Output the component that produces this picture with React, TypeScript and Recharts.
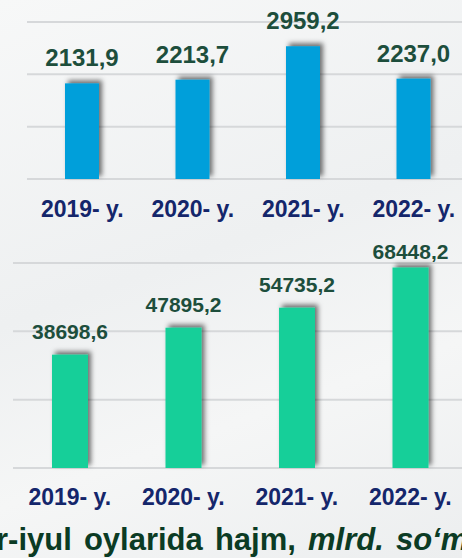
import { BarChart, Bar, XAxis, YAxis, CartesianGrid, LabelList } from 'recharts';

const YEARS = ['2019- y.', '2020- y.', '2021- y.', '2022- y.'];
const TOP_VALUES = [2131.9, 2213.7, 2959.2, 2237.0];
const BOTTOM_VALUES = [38698.6, 47895.2, 54735.2, 68448.2];
const TOP_TICKS = [0, 3500 / 3, 7000 / 3, 3500];
const BOTTOM_TICKS = [0, 70000 / 3, 140000 / 3, 70000];

const topData = YEARS.map((year, i) => ({ year, value: TOP_VALUES[i] }));
const bottomData = YEARS.map((year, i) => ({ year, value: BOTTOM_VALUES[i] }));

const FONT = '"Liberation Sans", Arial, sans-serif';
const fmt = (v: number) => v.toFixed(1).replace('.', ',');

const YearTick = ({ x, y, payload, dy }: any) => (
    <text x={x} y={y + dy} textAnchor="middle" fontFamily={FONT} fontWeight="bold" fontSize={23} fill="#14266b">
        {payload.value}
    </text>
);

// label above each bar, kept inside the plot top like the original
const makeValueLabel = (fontSize: number, gap: number, minY: number) => (props: any) => {
    const { x, y, width, value } = props;
    const ty = Math.max(y - gap, minY);
    return (
        <text x={x + width / 2} y={ty} textAnchor="middle" fontFamily={FONT} fontWeight="bold" fontSize={fontSize} fill="#1d4e3c">
            {fmt(value)}
        </text>
    );
};

const ShadowBar = ({ x, y, width, height, fill, filterId }: any) => (
    <rect x={x} y={y} width={width} height={height} fill={fill} filter={`url(#${filterId})`} />
);

export default function App() {
    return (
        <div
            style={{
                position: 'absolute',
                left: 0,
                top: 0,
                width: 462,
                height: 558,
                overflow: 'hidden',
                background: 'linear-gradient(160deg, #f7f8f8 0%, #eef0f1 45%, #f5f6f6 70%, #eceeef 100%)',
            }}
        >
            {/* top chart */}
            <div style={{ position: 'absolute', left: 0, top: 0 }}>
                <BarChart width={469} height={230} data={topData} margin={{ top: 22, right: 0, bottom: 0, left: 27 }} barSize={34}>
                    <defs>
                        <filter id="shTop" x="-50%" y="-50%" width="200%" height="200%">
                            <feDropShadow dx={3} dy={-3} stdDeviation={2.5} floodColor="#000" floodOpacity={0.55} />
                        </filter>
                    </defs>
                    <CartesianGrid horizontal vertical={false} stroke="#d6d8da" strokeWidth={2} />
                    <XAxis
                        dataKey="year"
                        axisLine={false}
                        tickLine={false}
                        tickSize={0}
                        tickMargin={0}
                        height={51}
                        interval={0}
                        tick={<YearTick dy={38} />}
                    />
                    <YAxis hide domain={[0, 3500]} ticks={TOP_TICKS} width={0} />
                    <Bar dataKey="value" fill="#009fda" isAnimationActive={false} shape={<ShadowBar filterId="shTop" />}>
                        <LabelList dataKey="value" content={makeValueLabel(24, 17, 0)} />
                    </Bar>
                </BarChart>
            </div>

            {/* bottom chart */}
            <div style={{ position: 'absolute', left: 0, top: 236 }}>
                <BarChart width={467} height={290} data={bottomData} margin={{ top: 27, right: 0, bottom: 0, left: 13 }} barSize={36}>
                    <defs>
                        <filter id="shBot" x="-50%" y="-50%" width="200%" height="200%">
                            <feDropShadow dx={3} dy={-3} stdDeviation={2.5} floodColor="#000" floodOpacity={0.55} />
                        </filter>
                    </defs>
                    <CartesianGrid horizontal vertical={false} stroke="#d6d8da" strokeWidth={2} />
                    <XAxis
                        dataKey="year"
                        axisLine={false}
                        tickLine={false}
                        tickSize={0}
                        tickMargin={0}
                        height={58}
                        interval={0}
                        tick={<YearTick dy={37} />}
                    />
                    <YAxis hide domain={[0, 70000]} ticks={BOTTOM_TICKS} width={0} />
                    <Bar dataKey="value" fill="#14cf99" isAnimationActive={false} shape={<ShadowBar filterId="shBot" />}>
                        <LabelList dataKey="value" content={makeValueLabel(21, 16, 23)} />
                    </Bar>
                </BarChart>
            </div>

            {/* caption, cut at both edges as in the source slide */}
            <svg width={462} height={558} style={{ position: 'absolute', left: 0, top: 0 }}>
                <text x={-4} y={550} fontFamily={FONT} fontWeight="bold" fontSize={31} fill="#0b3b24" wordSpacing={3.5}>
                    r-iyul oylarida hajm, <tspan fontStyle="italic">mlrd. so‘m</tspan>
                </text>
            </svg>
        </div>
    );
}
